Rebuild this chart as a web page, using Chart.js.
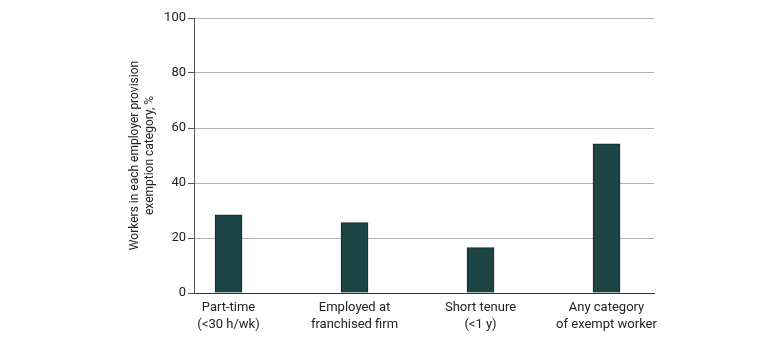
<!DOCTYPE html>
<html>
<head>
<meta charset="utf-8">
<script src="https://cdn.jsdelivr.net/npm/chart.js@4/dist/chart.umd.min.js"></script>
<style>
  html, body { margin: 0; padding: 0; background: #fff; }
  #wrap { width: 780px; height: 348px; }
</style>
</head>
<body>
<div id="wrap"><canvas id="chart"></canvas></div>
<script>
// category labels (two lines each)
const categories = [
    ['Part-time', '(<30 h/wk)'],
    ['Employed at', 'franchised firm'],
    ['Short tenure', '(<1 y)'],
    ['Any category', 'of exempt worker']
];
// share of workers, %
const workerPct = [28.4, 25.6, 16.5, 54.2];
const yTicks = [0, 20, 40, 60, 80, 100];
const yTitle = ['Workers in each employer provision', 'exemption category, %'];

const fontFamily = 'Roboto, "Open Sans", sans-serif';

// bars sit on a linear x axis so the uneven side gaps match the figure
const points = workerPct.map((v, i) => ({ x: i, y: v }));

new Chart(document.getElementById('chart'), {
    type: 'bar',
    data: {
        datasets: [{
            data: points,
            backgroundColor: '#1d4545',
            borderColor: '#102b2b',
            borderWidth: 1,
            borderSkipped: 'bottom',
            barThickness: 27
        }]
    },
    options: {
        responsive: true,
        maintainAspectRatio: false,
        animation: false,
        layout: { padding: { left: 127, right: 126, top: 18, bottom: 0 } },
        plugins: { legend: { display: false }, tooltip: { enabled: false } },
        scales: {
            x: {
                type: 'linear',
                offset: false,
                min: -0.274,
                max: 3.377,
                afterBuildTicks: scale => { scale.ticks = categories.map((c, i) => ({ value: i })); },
                afterFit: scale => { scale.height = 55; },
                grid: { display: false, drawTicks: false },
                border: { color: '#333', width: 1 },
                ticks: {
                    autoSkip: false,
                    maxRotation: 0,
                    padding: 7,
                    color: '#222',
                    font: { family: fontFamily, size: 13, lineHeight: 1.25 },
                    callback: (v) => categories[v]
                }
            },
            y: {
                min: 0,
                max: 100,
                afterBuildTicks: scale => { scale.ticks = yTicks.map(v => ({ value: v })); },
                afterFit: scale => { scale.width = 67; },
                grid: {
                    color: '#b0b0b0',
                    lineWidth: 1,
                    tickLength: 6,
                    tickColor: '#555'
                },
                border: { color: '#555', width: 1 },
                ticks: {
                    padding: 2,
                    color: '#222',
                    font: { family: fontFamily, size: 13 }
                },
                title: {
                    display: true,
                    text: yTitle,
                    color: '#222',
                    font: { family: fontFamily, size: 12, lineHeight: 1.3 },
                    padding: 0
                }
            }
        }
    }
});
</script>
</body>
</html>
